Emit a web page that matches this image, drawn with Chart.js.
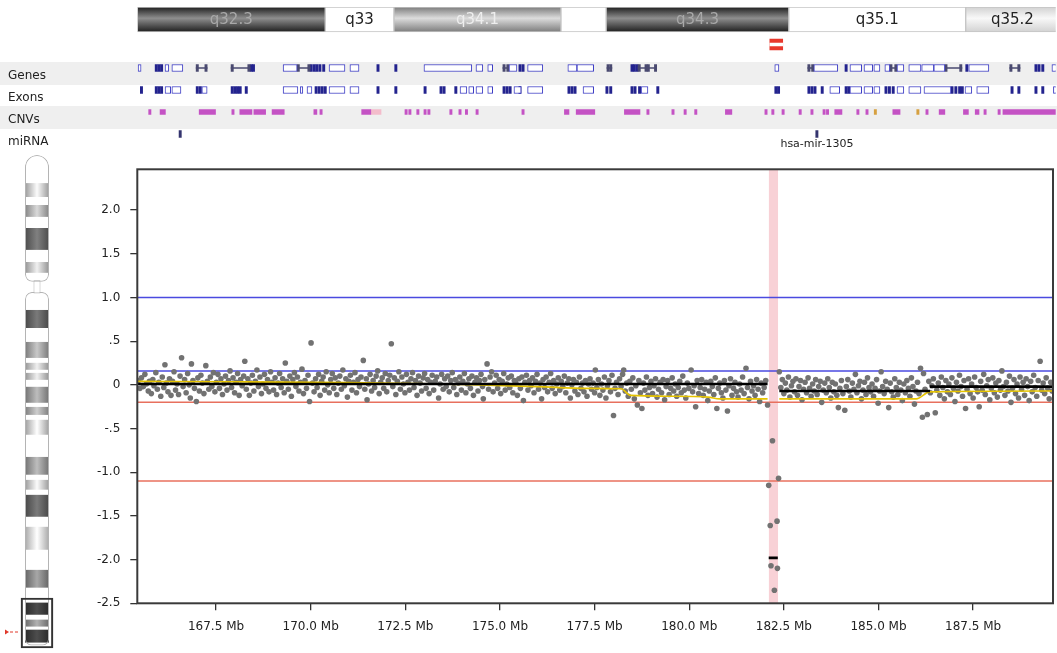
<!DOCTYPE html>
<html>
<head>
<meta charset="utf-8">
<script src="https://cdn.jsdelivr.net/npm/chart.js@4.4.0/dist/chart.umd.min.js"></script>
<style>
  html, body { margin: 0; padding: 0; background: #fff; }
  #wrap { position: relative; width: 1057px; height: 653px; overflow: hidden; }
  canvas { position: absolute; left: 0; }
</style>
</head>
<body>
<div id="wrap">
  <canvas id="bands" width="1057" height="58" style="top:0"></canvas>
  <canvas id="tracks" width="1057" height="106" style="top:48px"></canvas>
  <canvas id="main" width="1057" height="503" style="top:150px"></canvas>
  <canvas id="ideo" width="65" height="503" style="top:150px"></canvas>
</div>
<script>
// Visible window on chr4 (Mb)
const viewStart = 165.42;
const viewEnd = 189.61;

// Cytobands along the top
const bandLabels = ['q32.3', 'q33', 'q34.1', '', 'q34.3', 'q35.1', 'q35.2'];
const bandStart = [165.42, 170.37, 172.18, 176.58, 177.77, 182.58, 187.24];
const bandEnd = [170.37, 172.18, 176.58, 177.77, 182.58, 187.24, 189.7];
const bandStain = ['gpos100', 'gneg', 'gpos50', 'gneg', 'gpos100', 'gneg', 'gpos25'];

// selected region marker under the bands
const markStart = [182.08];
const markEnd = [182.42];

// annotation tracks
const trackNames = ['Genes', 'Exons', 'CNVs', 'miRNA'];
const geneBoxes = [[165.44,165.52],[166.15,166.25],[166.33,166.62],[169.26,169.63],[170.47,170.89],[171.02,171.26],
  [172.97,174.23],[174.34,174.52],[174.65,174.78],[175.21,175.42],[175.70,176.10],[176.76,177.00],[177.00,177.44],
  [182.21,182.32],[183.24,183.87],[184.19,184.50],[184.56,184.79],[184.82,184.98],[185.11,185.24],[185.43,185.61],
  [185.74,186.06],[186.08,186.40],[186.40,186.69],[187.32,187.85],[189.51,189.70]];
const geneIntrons = [[166.97,167.26],[167.89,168.39],[169.63,169.97],[175.05,175.21],[177.79,177.92],[178.61,178.85],
  [178.85,179.10],[183.08,183.24],[185.24,185.43],[186.69,187.14],[188.40,188.67]];
const geneBars = [165.89,165.96,166.03,168.39,168.45,169.97,170.05,170.12,170.20,170.30,171.73,172.20,175.47,175.55,
  178.42,178.48,178.55,184.06,187.24,189.06,189.14,189.24];
const exonBoxes = [[166.15,166.30],[166.33,166.57],[167.12,167.26],[169.26,169.65],[169.71,169.78],[169.89,170.02],
  [170.47,170.89],[171.02,171.26],[173.92,174.10],[174.15,174.28],[174.34,174.52],[174.65,174.78],[175.34,175.53],
  [175.70,176.10],[177.16,177.44],[178.69,178.87],[183.66,183.92],[184.19,184.50],[184.56,184.79],[184.82,184.98],
  [185.43,185.61],[185.74,186.06],[186.14,186.85],[187.22,187.40],[187.53,187.85],[189.55,189.70]];
const exonBars = [165.50,165.89,165.96,166.03,166.97,167.05,167.89,167.96,168.03,168.10,168.26,170.10,170.18,170.26,
  170.34,171.73,172.20,172.97,173.39,173.47,173.78,175.05,175.13,175.21,175.47,176.76,176.84,176.92,177.76,177.86,
  178.42,178.50,178.62,179.10,182.21,182.28,183.08,183.16,183.24,183.43,184.06,184.13,185.11,185.20,185.30,186.85,
  186.95,187.05,187.12,188.43,188.61,189.06,189.24];
const cnvSpans = [[166.02,166.16],[167.05,167.48],[168.12,168.44],[168.49,168.80],[168.97,169.29],[170.07,170.15],
  [171.33,171.57],[176.67,176.79],[176.98,177.47],[178.25,178.66],[180.91,181.08],[183.79,183.98],[185.32,185.51],
  [186.54,186.69],[187.18,187.31],[187.49,187.59],[188.22,189.70]];
const cnvThin = [165.72,167.91,170.23,172.47,172.57,172.78,172.97,173.07,173.65,173.89,174.06,174.34,175.55,178.84,
  179.50,179.82,180.10,181.95,182.13,182.40,182.85,183.16,183.48,183.57,184.37,184.61,186.19,187.72,188.09];
const cnvPale = [[171.57,171.84]];
const cnvOther = [184.83,185.95];
const mirPos = [166.52, 183.29];
const mirNames = ['', 'hsa-mir-1305'];

// Probe log2 ratios [Mb, value]
const probes = [
  [165.45,0.05],[165.49,-0.04],[165.53,0.08],[165.58,-0.02],[165.62,0.12],[165.66,0.01],[165.71,-0.07],[165.74,0.04],[165.79,-0.10],[165.83,0.06],
  [165.86,-0.01],[165.91,0.14],[165.95,-0.05],[165.99,0.03],[166.04,-0.13],[166.08,0.09],[166.12,-0.03],[166.15,0.23],[166.19,0.02],[166.23,-0.08],
  [166.27,0.07],[166.31,-0.12],[166.35,0.04],[166.39,0.15],[166.43,-0.06],[166.47,0.01],[166.51,-0.11],[166.55,0.10],[166.59,0.31],[166.63,-0.02],
  [166.67,0.06],[166.71,-0.09],[166.75,0.13],[166.79,0.00],[166.82,-0.15],[166.85,0.24],[166.89,0.05],[166.93,-0.04],[166.98,-0.19],[167.02,0.08],
  [167.06,-0.07],[167.10,0.11],[167.14,0.02],[167.18,-0.10],[167.23,0.22],[167.27,0.04],[167.31,-0.05],[167.35,0.09],[167.39,-0.02],[167.43,0.14],
  [167.47,-0.08],[167.51,0.03],[167.55,0.12],[167.59,-0.04],[167.63,0.07],[167.67,-0.11],[167.71,0.01],[167.75,0.10],[167.79,-0.06],[167.83,0.05],
  [167.87,0.16],[167.91,-0.03],[167.95,0.08],[167.99,-0.09],[168.03,0.03],[168.07,0.13],[168.11,-0.12],[168.15,0.06],[168.19,-0.01],[168.23,0.10],
  [168.26,0.27],[168.30,-0.05],[168.34,0.07],[168.38,-0.12],[168.42,0.02],[168.46,0.11],[168.50,-0.07],[168.54,0.04],[168.58,0.17],[168.62,-0.02],
  [168.66,0.09],[168.70,-0.10],[168.74,0.01],[168.78,0.12],[168.82,-0.04],[168.86,0.06],[168.90,-0.08],[168.94,0.15],[168.98,0.03],[169.02,-0.06],
  [169.06,0.08],[169.10,-0.11],[169.14,0.02],[169.18,0.13],[169.22,-0.03],[169.26,0.07],[169.30,-0.09],[169.33,0.25],[169.37,0.04],[169.41,-0.05],
  [169.45,0.10],[169.49,-0.13],[169.53,0.06],[169.57,0.14],[169.61,-0.02],[169.65,0.09],[169.69,-0.07],[169.73,0.03],[169.77,0.18],[169.81,-0.10],
  [169.85,0.05],[169.89,-0.04],[169.93,0.11],[169.97,-0.19],[170.01,0.48],[170.05,0.02],[170.09,-0.08],[170.13,0.07],[170.17,-0.03],[170.21,0.12],
  [170.25,-0.12],[170.29,0.04],[170.33,0.09],[170.37,-0.06],[170.41,0.15],[170.45,0.00],[170.49,-0.09],[170.53,0.06],[170.57,0.13],[170.61,-0.04],
  [170.65,0.08],[170.69,-0.11],[170.73,0.02],[170.77,0.10],[170.81,-0.05],[170.85,0.17],[170.89,-0.01],[170.93,0.07],[170.97,-0.14],[171.01,0.04],
  [171.05,0.11],[171.09,-0.06],[171.13,0.03],[171.17,0.14],[171.21,-0.09],[171.25,0.06],[171.29,-0.02],[171.33,0.09],[171.39,0.28],[171.43,-0.05],
  [171.47,0.07],[171.49,-0.17],[171.53,0.01],[171.57,0.12],[171.61,-0.07],[171.65,0.05],[171.69,-0.03],[171.73,0.10],[171.77,0.16],[171.81,-0.10],
  [171.85,0.03],[171.89,0.08],[171.93,-0.04],[171.97,0.13],[172.01,-0.08],[172.05,0.05],[172.09,0.11],[172.13,0.47],[172.17,-0.02],[172.21,0.08],
  [172.25,-0.11],[172.29,0.04],[172.33,0.15],[172.37,-0.05],[172.41,0.09],[172.45,0.01],[172.49,-0.09],[172.53,0.12],[172.57,0.03],[172.61,-0.06],
  [172.65,0.07],[172.69,0.14],[172.73,-0.03],[172.77,0.05],[172.81,-0.12],[172.85,0.10],[172.89,0.02],[172.93,-0.07],[172.97,0.08],[173.01,0.13],
  [173.05,-0.04],[173.09,0.06],[173.13,-0.10],[173.17,0.03],[173.21,0.11],[173.25,-0.06],[173.29,0.04],[173.33,0.09],[173.38,-0.15],[173.42,0.01],
  [173.46,0.12],[173.50,-0.05],[173.54,0.07],[173.58,-0.02],[173.62,0.10],[173.66,-0.08],[173.70,0.05],[173.74,0.14],[173.78,-0.03],[173.82,0.06],
  [173.86,-0.11],[173.90,0.02],[173.94,0.09],[173.98,-0.06],[174.02,0.04],[174.06,0.13],[174.10,-0.09],[174.14,0.01],[174.18,0.07],[174.22,-0.04],
  [174.26,0.10],[174.30,-0.12],[174.34,0.03],[174.38,0.08],[174.42,-0.07],[174.46,0.05],[174.50,0.12],[174.54,-0.02],[174.56,-0.16],[174.60,0.06],
  [174.66,0.24],[174.70,-0.05],[174.74,0.09],[174.78,0.15],[174.82,-0.08],[174.86,0.02],[174.90,0.11],[174.94,-0.04],[174.98,0.06],[175.02,-0.10],
  [175.06,0.04],[175.10,0.13],[175.14,-0.06],[175.18,0.01],[175.22,0.08],[175.26,-0.03],[175.30,0.10],[175.34,-0.09],[175.38,0.05],[175.42,0.02],
  [175.46,-0.12],[175.50,0.07],[175.54,-0.04],[175.58,0.09],[175.62,-0.18],[175.66,0.03],[175.70,0.11],[175.74,-0.06],[175.78,0.05],[175.82,-0.01],
  [175.86,0.08],[175.90,-0.09],[175.94,0.04],[175.98,0.12],[176.02,-0.05],[176.06,0.02],[176.10,-0.16],[176.14,0.06],[176.18,-0.03],[176.22,0.09],
  [176.26,-0.08],[176.30,0.03],[176.34,0.13],[176.38,-0.04],[176.42,0.05],[176.46,-0.10],[176.50,0.01],[176.54,0.08],[176.58,-0.06],[176.62,0.04],
  [176.66,-0.02],[176.70,0.10],[176.74,-0.09],[176.78,0.02],[176.82,0.07],[176.86,-0.15],[176.90,0.00],[176.94,0.06],[176.98,-0.07],[177.02,0.03],
  [177.06,-0.11],[177.10,0.09],[177.14,-0.04],[177.18,0.02],[177.22,-0.08],[177.26,0.05],[177.30,-0.13],[177.34,0.01],[177.38,0.07],[177.42,-0.05],
  [177.46,0.02],[177.50,-0.09],[177.52,0.17],[177.56,-0.03],[177.60,0.06],[177.64,-0.12],[177.68,0.01],[177.72,-0.06],[177.76,0.09],[177.80,-0.15],
  [177.84,-0.01],[177.88,0.05],[177.92,-0.08],[177.96,0.11],[178.00,-0.35],[178.04,-0.04],[178.08,0.03],[178.12,-0.11],[178.16,0.07],[178.20,-0.02],
  [178.24,0.12],[178.27,0.17],[178.31,-0.07],[178.35,0.02],[178.39,-0.13],[178.43,0.04],[178.47,-0.05],[178.51,0.08],[178.55,-0.16],[178.59,-0.01],
  [178.63,-0.23],[178.67,0.05],[178.71,-0.09],[178.75,-0.27],[178.79,0.02],[178.83,-0.06],[178.87,0.09],[178.91,-0.12],[178.95,-0.03],[178.99,0.04],
  [179.03,-0.10],[179.07,-0.01],[179.11,0.07],[179.15,-0.14],[179.19,-0.05],[179.23,0.03],[179.27,-0.09],[179.31,0.06],[179.35,-0.17],[179.39,-0.02],
  [179.43,0.05],[179.47,-0.11],[179.51,-0.04],[179.55,0.08],[179.59,-0.07],[179.63,0.01],[179.67,-0.13],[179.71,-0.03],[179.75,0.04],[179.79,-0.09],
  [179.83,0.10],[179.87,-0.06],[179.91,-0.15],[179.95,0.02],[179.99,-0.04],[180.05,0.17],[180.09,-0.08],[180.13,-0.01],[180.17,-0.25],[180.21,0.05],
  [180.25,-0.10],[180.29,-0.03],[180.33,0.06],[180.37,-0.12],[180.41,-0.05],[180.45,0.03],[180.49,-0.18],[180.53,-0.07],[180.57,0.04],[180.61,-0.02],
  [180.65,-0.11],[180.69,0.08],[180.73,-0.27],[180.77,-0.04],[180.81,0.02],[180.85,-0.09],[180.89,-0.15],[180.93,0.05],[180.97,-0.06],[181.01,-0.30],
  [181.05,-0.01],[181.09,0.07],[181.13,-0.12],[181.17,-0.04],[181.21,0.03],[181.25,-0.08],[181.29,-0.14],[181.33,0.01],[181.37,-0.06],[181.41,0.09],
  [181.45,-0.10],[181.50,0.19],[181.54,-0.03],[181.58,-0.16],[181.62,0.04],[181.66,-0.07],[181.70,-0.01],[181.74,-0.12],[181.78,0.06],[181.82,-0.05],
  [181.86,-0.19],[181.90,0.02],[181.94,-0.09],[181.98,-0.03],[182.02,0.05],[182.07,-0.23],
  [182.20,-0.64],[182.36,-1.07],[182.10,-1.15],[182.14,-1.61],[182.32,-1.56],[182.16,-2.07],[182.33,-2.10],[182.25,-2.35],
  [182.38,0.15],[182.42,-0.03],[182.46,0.06],[182.50,-0.10],[182.54,0.02],[182.58,-0.06],[182.62,0.09],[182.66,-0.14],[182.70,-0.01],[182.74,0.04],
  [182.78,-0.08],[182.82,0.07],[182.86,-0.12],[182.90,-0.02],[182.94,0.05],[182.98,-0.17],[183.02,-0.05],[183.06,0.03],[183.10,-0.09],[183.14,0.08],
  [183.18,-0.04],[183.22,-0.13],[183.26,0.01],[183.30,-0.07],[183.34,0.06],[183.38,-0.11],[183.42,-0.02],[183.46,0.04],[183.50,-0.20],[183.54,-0.06],
  [183.58,0.02],[183.62,-0.09],[183.66,0.07],[183.70,-0.03],[183.74,-0.15],[183.78,0.03],[183.82,-0.08],[183.86,0.01],[183.90,-0.12],[183.94,-0.26],
  [183.98,-0.04],[184.02,0.05],[184.06,-0.10],[184.11,-0.29],[184.15,-0.02],[184.19,0.06],[184.23,-0.07],[184.27,-0.14],[184.31,0.02],[184.35,-0.05],
  [184.39,0.12],[184.43,-0.09],[184.47,-0.01],[184.51,0.04],[184.55,-0.16],[184.59,-0.06],[184.63,0.03],[184.67,-0.11],[184.71,0.08],[184.75,-0.03],
  [184.79,-0.08],[184.83,0.01],[184.87,-0.13],[184.91,-0.04],[184.95,0.06],[184.99,-0.21],[185.03,-0.07],[185.07,0.15],[185.11,-0.02],[185.15,-0.10],
  [185.19,0.04],[185.23,-0.05],[185.27,-0.26],[185.31,0.02],[185.35,-0.08],[185.39,-0.14],[185.43,0.07],[185.47,-0.03],[185.51,-0.11],[185.55,0.03],
  [185.59,-0.06],[185.63,-0.18],[185.67,0.01],[185.71,-0.09],[185.75,0.05],[185.79,-0.04],[185.83,-0.13],[185.87,0.08],[185.91,-0.02],[185.95,-0.22],
  [185.99,-0.07],[186.03,0.03],[186.07,-0.10],[186.11,0.19],[186.16,-0.37],[186.19,0.13],[186.23,-0.05],[186.29,-0.34],[186.33,0.04],[186.37,-0.09],
  [186.41,-0.01],[186.45,0.07],[186.50,-0.32],[186.54,-0.06],[186.58,0.02],[186.62,-0.12],[186.66,0.09],[186.70,-0.03],[186.74,-0.16],[186.78,0.05],
  [186.82,-0.08],[186.86,0.01],[186.90,-0.11],[186.94,0.08],[186.98,-0.04],[187.02,-0.19],[187.06,0.03],[187.10,-0.07],[187.14,0.11],[187.18,-0.02],
  [187.22,-0.13],[187.26,0.05],[187.30,-0.27],[187.34,-0.05],[187.38,0.07],[187.42,-0.10],[187.46,0.01],[187.50,-0.15],[187.54,0.09],[187.58,-0.03],
  [187.62,-0.08],[187.66,-0.25],[187.70,0.04],[187.74,-0.06],[187.78,0.12],[187.82,-0.11],[187.86,-0.01],[187.90,0.06],[187.94,-0.17],[187.98,-0.04],
  [188.02,0.08],[188.06,-0.09],[188.10,0.02],[188.14,-0.14],[188.18,0.05],[188.22,-0.06],[188.26,0.16],[188.30,-0.02],[188.34,-0.12],[188.38,0.03],
  [188.42,-0.07],[188.46,0.10],[188.50,-0.20],[188.54,-0.04],[188.58,0.06],[188.62,-0.10],[188.66,0.01],[188.70,-0.15],[188.74,0.09],[188.78,-0.05],
  [188.82,0.03],[188.86,-0.12],[188.90,0.07],[188.94,-0.02],[188.98,-0.18],[189.02,0.04],[189.06,-0.08],[189.10,0.11],[189.14,-0.03],[189.18,-0.13],
  [189.22,0.05],[189.27,0.27],[189.31,-0.06],[189.35,0.02],[189.39,-0.10],[189.43,0.08],[189.47,-0.04],[189.51,-0.16],[189.55,0.03],[189.59,-0.07]
];

// segmentation means
const segStart = [165.42, 182.10, 182.38, 186.36];
const segEnd = [182.07, 182.34, 186.36, 189.61];
const segMean = [0.01, -1.98, -0.07, -0.02];

// smoothed trend (null = gap over the call)
const trendMb = [165.42, 168.0, 171.0, 174.0, 176.0, 177.3, 178.2, 178.45, 179.5, 180.5, 180.8, 182.07, 182.2, 182.38, 186.0, 186.35, 189.61];
const trendVal = [0.04, 0.035, 0.025, 0.005, -0.02, -0.04, -0.045, -0.12, -0.13, -0.14, -0.16, -0.16, null, -0.16, -0.16, -0.08, -0.07];

// thresholds
const thresholdValues = [1.0, 0.16, -0.2, -1.1];
const thresholdColors = ['#4a4ae0', '#4a4ae0', '#e8705e', '#e8705e'];

// called deletion
const callStart = [182.10];
const callEnd = [182.35];

// axes
const yTickValues = [2.0, 1.5, 1.0, 0.5, 0, -0.5, -1.0, -1.5, -2.0, -2.5];
const yTickLabels = ['2.0', '1.5', '1.0', '.5', '0', '-.5', '-1.0', '-1.5', '-2.0', '-2.5'];
const xTickValues = [167.5, 170.0, 172.5, 175.0, 177.5, 180.0, 182.5, 185.0, 187.5];

// whole-chromosome ideogram (chr4, Mb) on the left
const chromLength = 191.2;
const pArmEnd = 49.2;
const qArmStart = 53.1;
const ideoStart = [10.9, 19.4, 28.3, 41.5, 60.1, 72.5, 80.6, 84.5, 89.9, 97.7, 102.7, 117.1, 126.0, 131.8, 144.2, 160.9, 173.6, 180.2, 184.1];
const ideoEnd = [16.3, 24.0, 36.8, 45.7, 67.1, 78.7, 83.3, 87.2, 96.1, 100.8, 108.5, 124.0, 129.8, 140.3, 153.1, 167.8, 178.3, 182.9, 189.1];
const ideoShade = [215, 185, 105, 205, 100, 170, 205, 205, 160, 175, 220, 160, 215, 100, 235, 140, 60, 150, 60];
const zoomBox = [171.8, 191.2];
const ideoMarker = 185.0;

Chart.defaults.font.family = "'DejaVu Sans', sans-serif";
Chart.defaults.font.size = 12;
Chart.defaults.color = '#222';
Chart.defaults.animation = false;
Chart.defaults.plugins.legend.display = false;
Chart.defaults.plugins.tooltip.enabled = false;

const stainColors = {
  gpos100: ['#1e1e1e', '#8e8e8e', '#a9a9a9'],
  gpos50: ['#7c7c7c', '#dcdcdc', '#eeeeee'],
  gpos25: ['#d2d2d2', '#f8f8f8', '#222222'],
  gneg: ['#ffffff', '#ffffff', '#222222']
};

function grey(v) {
  const g = Math.round(Math.max(0, Math.min(255, v)));
  return 'rgb(' + g + ',' + g + ',' + g + ')';
}

// ---------- cytoband strip ----------
const bandLabelPlugin = {
  id: 'bandLabels',
  afterDatasetsDraw(chart) {
    const meta = chart.getDatasetMeta(2);
    const ctx = chart.ctx;
    ctx.save();
    ctx.font = "15px 'DejaVu Sans', sans-serif";
    ctx.textAlign = 'center';
    ctx.textBaseline = 'middle';
    meta.data.forEach((bar, i) => {
      if (!bandLabels[i]) return;
      ctx.fillStyle = stainColors[bandStain[i]][2];
      ctx.fillText(bandLabels[i], (bar.x + bar.base) / 2, bar.y + 1);
    });
    ctx.restore();
  }
};

new Chart(document.getElementById('bands'), {
  type: 'bar',
  data: {
    labels: ['band', 'mark'],
    datasets: [
      {
        data: markStart.map((s, i) => ({ x: [s, markEnd[i]], y: 'mark' })),
        backgroundColor: '#ffffff', barThickness: 3, grouped: false, order: 0
      },
      {
        data: markStart.map((s, i) => ({ x: [s, markEnd[i]], y: 'mark' })),
        backgroundColor: '#e8382c', barThickness: 11, grouped: false, order: 1
      },
      {
        data: bandStart.map((s, i) => ({ x: [s, bandEnd[i]], y: 'band' })),
        backgroundColor: (c) => {
          const stain = stainColors[bandStain[c.dataIndex] || 'gneg'];
          const area = c.chart.chartArea;
          if (!area) return stain[1];
          const mid = c.chart.scales.y.getPixelForValue(0);
          const half = (area.bottom - area.top) / 4;
          const g = c.chart.ctx.createLinearGradient(0, mid - half, 0, mid + half);
          g.addColorStop(0, stain[0]);
          g.addColorStop(0.45, stain[1]);
          g.addColorStop(1, stain[0]);
          return g;
        },
        borderColor: '#c4c4c4', borderWidth: 1, borderSkipped: false,
        barPercentage: 1, categoryPercentage: 1, grouped: false, order: 2
      }
    ]
  },
  options: {
    responsive: false,
    indexAxis: 'y',
    layout: { padding: { left: 137.3, right: 1.3, top: 7, bottom: 1 } },
    scales: {
      x: { type: 'linear', min: viewStart, max: viewEnd, display: false },
      y: { type: 'category', display: false }
    }
  },
  plugins: [bandLabelPlugin]
});

// ---------- annotation tracks ----------
const thinMb = 0.06;
function spans(list, row) { return list.map(p => ({ x: [p[0], p[1]], y: row })); }
function ticks(list, row) { return list.map(p => ({ x: [p, p + thinMb], y: row })); }

const rowShadePlugin = {
  id: 'rowShade',
  beforeDraw(chart) {
    const ctx = chart.ctx;
    const y = chart.scales.y;
    ctx.save();
    ctx.fillStyle = '#efefef';
    ['Genes', 'CNVs'].forEach(name => {
      const c = y.getPixelForValue(trackNames.indexOf(name));
      ctx.fillRect(0, c - 6, chart.width, 23);
    });
    ctx.restore();
  },
  afterDatasetsDraw(chart) {
    const meta = chart.getDatasetMeta(chart.data.datasets.length - 1);
    const ctx = chart.ctx;
    ctx.save();
    ctx.font = "11px 'DejaVu Sans', sans-serif";
    ctx.fillStyle = '#222';
    ctx.textAlign = 'center';
    ctx.textBaseline = 'middle';
    meta.data.forEach((bar, i) => {
      if (mirNames[i]) ctx.fillText(mirNames[i], (bar.x + bar.base) / 2, bar.y + 10);
    });
    ctx.restore();
  }
};

const boxStyle = { backgroundColor: '#ffffff', borderColor: '#3c3cc4', borderWidth: 1, borderSkipped: false, barThickness: 7, grouped: false };
const barStyle = { backgroundColor: '#23238e', barThickness: 7, grouped: false };

new Chart(document.getElementById('tracks'), {
  type: 'bar',
  data: {
    labels: trackNames,
    datasets: [
      Object.assign({ data: spans(geneBoxes, 'Genes') }, boxStyle),
      Object.assign({ data: spans(geneIntrons, 'Genes'), backgroundColor: '#4a4a70', barThickness: 1, grouped: false }),
      Object.assign({ data: ticks(geneIntrons.flatMap(p => [p[0], p[1] - thinMb]), 'Genes'), backgroundColor: '#4a4a70', barThickness: 7, grouped: false }),
      Object.assign({ data: ticks(geneBars, 'Genes') }, barStyle),
      Object.assign({ data: spans(exonBoxes, 'Exons') }, boxStyle),
      Object.assign({ data: ticks(exonBars, 'Exons') }, barStyle),
      { data: spans(cnvSpans, 'CNVs'), backgroundColor: '#c452c4', barThickness: 5, grouped: false },
      { data: ticks(cnvThin, 'CNVs'), backgroundColor: '#c452c4', barThickness: 5, grouped: false },
      { data: spans(cnvPale, 'CNVs'), backgroundColor: '#f3bccb', barThickness: 5, grouped: false },
      { data: ticks(cnvOther, 'CNVs'), backgroundColor: '#d6a040', barThickness: 5, grouped: false },
      { data: ticks(mirPos, 'miRNA'), backgroundColor: '#34346e', barThickness: 7, grouped: false }
    ]
  },
  options: {
    responsive: false,
    indexAxis: 'y',
    // top/bottom padding larger than half a label, so rows stay 22px each
    layout: { padding: { left: 8, right: 1.3, top: 9, bottom: 9 } },
    scales: {
      x: { type: 'linear', min: viewStart, max: viewEnd, display: false },
      y: {
        type: 'category',
        afterFit: (s) => { s.width = 129.3; },
        grid: { display: false },
        border: { display: false },
        ticks: { crossAlign: 'far', labelOffset: 8, padding: 0, color: '#222', font: { size: 12 } }
      }
    }
  },
  plugins: [rowShadePlugin]
});

// ---------- main log-ratio plot ----------
const framePlugin = {
  id: 'frame',
  afterDatasetsDraw(chart) {
    const a = chart.chartArea;
    const ctx = chart.ctx;
    ctx.save();
    ctx.strokeStyle = '#3a3a3a';
    ctx.lineWidth = 2;
    ctx.strokeRect(a.left, a.top, a.right - a.left, a.bottom - a.top);
    ctx.restore();
  }
};

const yMin = -2.5;
const yMax = 2.467;

const mainDatasets = [];
callStart.forEach((s, i) => {
  mainDatasets.push({
    type: 'line',
    data: [{ x: s, y: yMax }, { x: callEnd[i], y: yMax }],
    fill: { value: yMin },
    backgroundColor: 'rgba(245,185,192,0.65)',
    borderWidth: 0, pointRadius: 0, order: 10
  });
});
thresholdValues.forEach((v, i) => {
  mainDatasets.push({
    type: 'line',
    data: [{ x: viewStart, y: v }, { x: viewEnd, y: v }],
    borderColor: thresholdColors[i], backgroundColor: thresholdColors[i],
    borderWidth: 1.5, pointRadius: 0, fill: false, order: 8
  });
});
mainDatasets.push({
  type: 'scatter',
  data: probes.map(p => ({ x: p[0], y: p[1] })),
  backgroundColor: '#727272', borderWidth: 0, pointRadius: 2.8, order: 5
});
mainDatasets.push({
  type: 'line',
  data: trendMb.map((x, i) => ({ x: x, y: trendVal[i] })),
  borderColor: '#e6c400', borderWidth: 1.6, pointRadius: 0,
  cubicInterpolationMode: 'monotone', spanGaps: false, order: 2
});
segStart.forEach((s, i) => {
  mainDatasets.push({
    type: 'line',
    data: [{ x: s, y: segMean[i] }, { x: segEnd[i], y: segMean[i] }],
    borderColor: '#000000', borderWidth: 2.6, pointRadius: 0, order: 1
  });
});

new Chart(document.getElementById('main'), {
  type: 'scatter',
  data: { datasets: mainDatasets },
  options: {
    responsive: false,
    layout: { padding: { top: 19.3, right: 1.3, left: 0, bottom: 0 } },
    scales: {
      x: {
        type: 'linear', min: viewStart, max: viewEnd,
        afterFit: (s) => { s.height = 49.7; },
        afterBuildTicks: (s) => { s.ticks = xTickValues.map(v => ({ value: v })); },
        ticks: { callback: (v) => v.toFixed(1) + ' Mb', padding: 9, maxRotation: 0, autoSkip: false, color: '#222' },
        grid: { drawOnChartArea: false, tickLength: 7, color: '#333', lineWidth: 1.3 },
        border: { display: false }
      },
      y: {
        type: 'linear', min: yMin, max: yMax,
        afterFit: (s) => { s.width = 137.3; },
        afterBuildTicks: (s) => { s.ticks = yTickValues.map(v => ({ value: v })); },
        ticks: { callback: (v, i) => yTickLabels[i], padding: 10, autoSkip: false, color: '#222' },
        grid: { drawOnChartArea: false, tickLength: 7, color: '#333', lineWidth: 1.3 },
        border: { display: false }
      }
    }
  },
  plugins: [framePlugin]
});

// ---------- chromosome ideogram ----------
const markerPlugin = {
  id: 'ideoMarker',
  afterDraw(chart) {
    const y = chart.scales.y.getPixelForValue(ideoMarker);
    const ctx = chart.ctx;
    ctx.save();
    ctx.fillStyle = '#e0382a';
    ctx.beginPath();
    ctx.moveTo(5, y - 2.5);
    ctx.lineTo(9, y);
    ctx.lineTo(5, y + 2.5);
    ctx.closePath();
    ctx.fill();
    ctx.strokeStyle = '#e0382a';
    ctx.lineWidth = 1;
    ctx.setLineDash([3, 2]);
    ctx.beginPath();
    ctx.moveTo(10, y);
    ctx.lineTo(20, y);
    ctx.stroke();
    ctx.restore();
  }
};

new Chart(document.getElementById('ideo'), {
  type: 'bar',
  data: {
    labels: ['chr4'],
    datasets: [
      {
        data: [[zoomBox[0], zoomBox[1]]],
        backgroundColor: 'rgba(0,0,0,0)', borderColor: '#333', borderWidth: 1.5, borderSkipped: false,
        barPercentage: 1, categoryPercentage: 1, grouped: false, clip: false, order: 0
      },
      {
        data: [[0, pArmEnd]],
        backgroundColor: 'rgba(0,0,0,0)', borderColor: '#b4b4b4', borderWidth: 1, borderSkipped: false,
        borderRadius: { topLeft: 12, topRight: 12, bottomLeft: 7, bottomRight: 7 },
        barPercentage: 0.75, categoryPercentage: 1, grouped: false, order: 1
      },
      {
        data: [[pArmEnd - 0.6, qArmStart + 0.6]],
        backgroundColor: '#ffffff', borderColor: '#b4b4b4', borderWidth: 1, borderSkipped: false,
        barPercentage: 0.22, categoryPercentage: 1, grouped: false, order: 1
      },
      {
        data: [[qArmStart, chromLength - 1]],
        backgroundColor: 'rgba(0,0,0,0)', borderColor: '#b4b4b4', borderWidth: 1, borderSkipped: false,
        borderRadius: { topLeft: 7, topRight: 7, bottomLeft: 6, bottomRight: 6 },
        barPercentage: 0.75, categoryPercentage: 1, grouped: false, order: 1
      }
    ].concat(ideoStart.map((s, i) => ({
      data: [[s, ideoEnd[i]]],
      backgroundColor: (c) => {
        const lv = ideoShade[i];
        const area = c.chart.chartArea;
        if (!area) return grey(lv);
        const cx = (area.left + area.right) / 2;
        const hw = (area.right - area.left) * 0.75 / 2;
        const g = c.chart.ctx.createLinearGradient(cx - hw, 0, cx + hw, 0);
        g.addColorStop(0, grey(lv * 0.72));
        g.addColorStop(0.5, grey(lv * 1.12 + 10));
        g.addColorStop(1, grey(lv * 0.72));
        return g;
      },
      borderWidth: 0, barPercentage: 0.75, categoryPercentage: 1, grouped: false, order: 2
    })))
  },
  options: {
    responsive: false,
    layout: { padding: { left: 21, right: 12, top: 5, bottom: 5 } },
    scales: {
      x: { type: 'category', display: false },
      y: { type: 'linear', min: 0, max: chromLength, reverse: true, display: false }
    }
  },
  plugins: [markerPlugin]
});
</script>
</body>
</html>
